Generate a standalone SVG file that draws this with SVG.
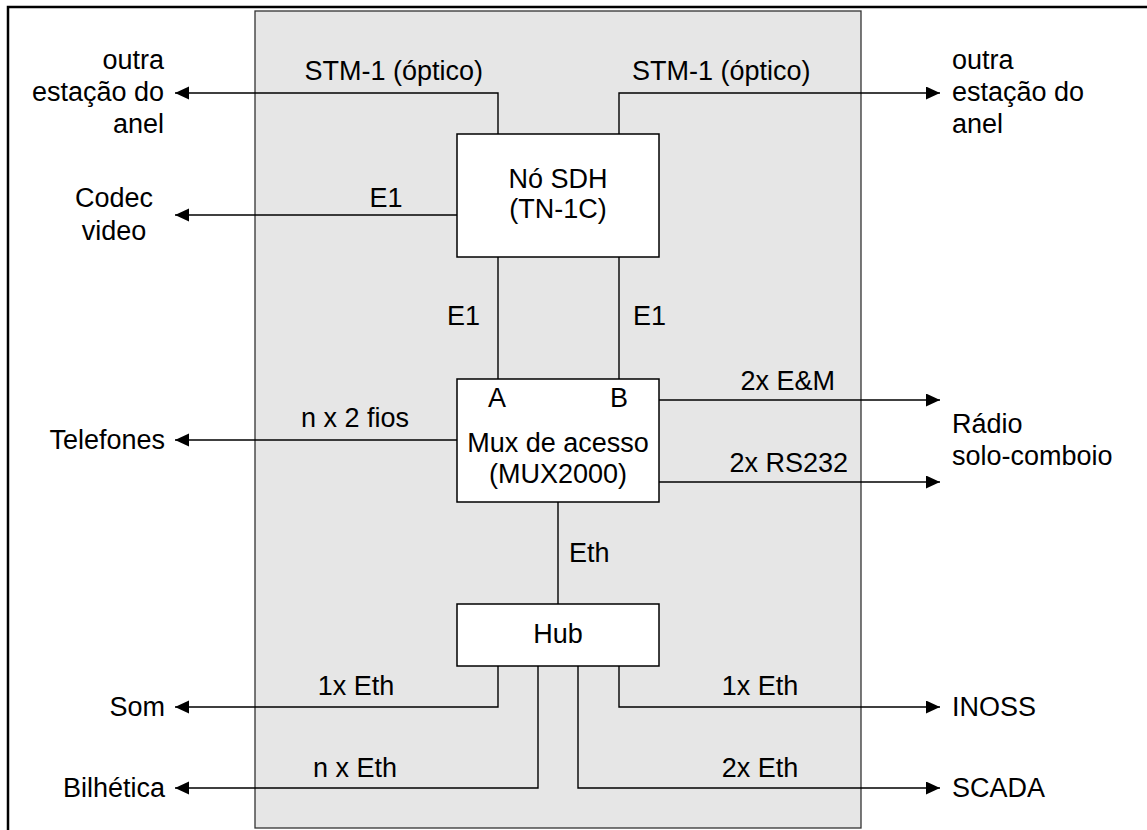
<svg xmlns="http://www.w3.org/2000/svg" width="1147" height="830" viewBox="0 0 1147 830">
<style>
text{font-family:"Liberation Sans",Arial,sans-serif;font-size:27px;fill:#000}
.box{fill:#fff;stroke:#000;stroke-width:1.5}
.c{fill:none;stroke:#000;stroke-width:1.4}
.m{text-anchor:middle}
.e{text-anchor:end}
</style>
<defs>
<marker id="ah" markerUnits="userSpaceOnUse" markerWidth="15" markerHeight="14" refX="14" refY="6.5" orient="auto">
<path d="M0,0 L14,6.5 L0,13 z" fill="#000"/>
</marker>
</defs>
<rect width="1147" height="830" fill="#fff"/>
<path d="M8,830 V7 H1147" fill="none" stroke="#000" stroke-width="2.5"/>
<rect x="255" y="11" width="606" height="817" fill="#e6e6e6" stroke="#333" stroke-width="1.3"/>
<g id="connectors">
<path class="c" d="M498,134 V93 H175" marker-end="url(#ah)"/>
<path class="c" d="M619,134 V93 H940" marker-end="url(#ah)"/>
<path class="c" d="M457,215 H175" marker-end="url(#ah)"/>
<path class="c" d="M498,257 V379"/>
<path class="c" d="M619,257 V379"/>
<path class="c" d="M457,440 H175" marker-end="url(#ah)"/>
<path class="c" d="M659,400 H940" marker-end="url(#ah)"/>
<path class="c" d="M659,482 H940" marker-end="url(#ah)"/>
<path class="c" d="M558,502 V604"/>
<path class="c" d="M498,666 V707 H175" marker-end="url(#ah)"/>
<path class="c" d="M538,666 V788 H175" marker-end="url(#ah)"/>
<path class="c" d="M578,666 V788 H940" marker-end="url(#ah)"/>
<path class="c" d="M619,666 V707 H940" marker-end="url(#ah)"/>
<text class="e" x="483" y="80">STM-1 (óptico)</text>
<text x="632" y="80">STM-1 (óptico)</text>
<text class="m" x="386" y="207">E1</text>
<text class="e" x="480" y="325">E1</text>
<text x="633" y="325">E1</text>
<text class="e" x="409" y="427">n x 2 fios</text>
<text class="e" x="835" y="390">2x E&amp;M</text>
<text class="e" x="848" y="472">2x RS232</text>
<text x="569" y="562">Eth</text>
<text class="m" x="356" y="695">1x Eth</text>
<text class="m" x="355" y="777">n x Eth</text>
<text class="m" x="760" y="695">1x Eth</text>
<text class="m" x="760" y="777">2x Eth</text>
</g>
<g id="sdh">
<rect class="box" x="457" y="134" width="202" height="123"/>
<text class="m" x="558" y="188">Nó SDH</text>
<text class="m" x="558" y="218">(TN-1C)</text>
</g>
<g id="mux">
<rect class="box" x="457" y="379" width="202" height="123"/>
<text class="m" x="497" y="407">A</text>
<text class="m" x="619" y="407">B</text>
<text class="m" x="558" y="452">Mux de acesso</text>
<text class="m" x="558" y="483">(MUX2000)</text>
</g>
<g id="hub">
<rect class="box" x="457" y="604" width="202" height="62"/>
<text class="m" x="558" y="643">Hub</text>
</g>
<g id="outra-esq">
<text class="e" x="164" y="69">outra</text>
<text class="e" x="164" y="101">estação do</text>
<text class="e" x="164" y="133">anel</text>
</g>
<g id="outra-dir">
<text x="952" y="69">outra</text>
<text x="952" y="101">estação do</text>
<text x="952" y="133">anel</text>
</g>
<g id="codec">
<text class="m" x="114" y="207">Codec</text>
<text class="m" x="114" y="240">video</text>
</g>
<g id="telefones"><text class="e" x="165" y="449">Telefones</text></g>
<g id="radio">
<text x="952" y="433">Rádio</text>
<text x="952" y="465">solo-comboio</text>
</g>
<g id="som"><text class="e" x="165" y="716">Som</text></g>
<g id="bilhetica"><text class="e" x="165" y="797">Bilhética</text></g>
<g id="inoss"><text x="952" y="716">INOSS</text></g>
<g id="scada"><text x="952" y="797">SCADA</text></g>
</svg>
